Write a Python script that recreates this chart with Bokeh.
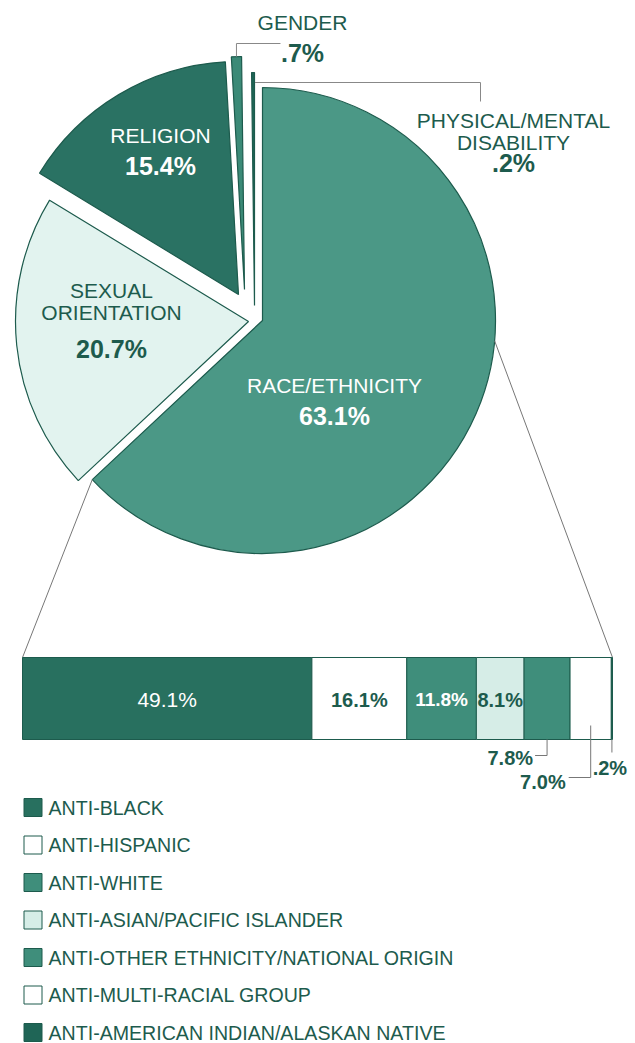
import math
from bokeh.plotting import figure
from bokeh.models import Range1d
from bokeh.core.properties import value
from bokeh.embed import file_html
from bokeh.resources import INLINE

# ---------------- data ----------------
pie_categories = ["RACE/ETHNICITY", "SEXUAL ORIENTATION", "RELIGION", "GENDER",
                  "PHYSICAL/MENTAL DISABILITY"]
pie_values = [63.1, 20.7, 15.4, 0.7, 0.2]
pie_label_lines = [["RACE/ETHNICITY"], ["SEXUAL", "ORIENTATION"], ["RELIGION"],
                   ["GENDER"], ["PHYSICAL/MENTAL", "DISABILITY"]]

bar_categories = ["ANTI-BLACK", "ANTI-HISPANIC", "ANTI-WHITE",
                  "ANTI-ASIAN/PACIFIC ISLANDER",
                  "ANTI-OTHER ETHNICITY/NATIONAL ORIGIN",
                  "ANTI-MULTI-RACIAL GROUP",
                  "ANTI-AMERICAN INDIAN/ALASKAN NATIVE"]
bar_values = [49.1, 16.1, 11.8, 8.1, 7.8, 7.0, 0.2]


def pct(v):
    s = f"{v:.1f}%"
    return s[1:] if s.startswith("0") else s


# ---------------- styles / layout ----------------
FONT = value("Liberation Sans")
DARK_TXT = "#1d5b4d"
EDGE = "#1d5b4d"

pie_colors = ["#4b9886", "#e2f3ef", "#2a7263", "#3b8a77", "#1f6556"]
pie_offsets = [(0, 0), (-14, 1), (-24, -26), (-18, -31), (-8, -15)]
pie_text_pos = [(334, 385), (111, 290), (160, 135), (302, 22), (513, 120)]
pie_text_color = ["white", DARK_TXT, "white", DARK_TXT, DARK_TXT]
LINE_GAP = 22
NUM_GAP = [30, 58, 30, 30, 42]

bar_colors = ["#28705f", "#ffffff", "#3f8e7b", "#d6ede7", "#3f8e7b", "#ffffff", "#1f6556"]
bar_text_color = ["white", DARK_TXT, "white", DARK_TXT, DARK_TXT, DARK_TXT, DARK_TXT]
bar_text_bold = ["normal", "bold", "bold", "bold", "bold", "bold", "bold"]
bar_text_size = ["21px", "20px", "19px", "20px", "20px", "20px", "20px"]
bar_inside = [True, True, True, True, False, False, False]

CX, CY, R = 262, 320, 233
W, H = 635, 1043
BAR_X0, BAR_X1, BAR_TOP, BAR_BOT = 22, 612, 657, 739

p = figure(width=W, height=H, output_backend="svg", toolbar_location=None,
           x_range=Range1d(0, W), y_range=Range1d(H, 0),
           x_axis_type=None, y_axis_type=None, min_border=0)
p.grid.visible = False
p.outline_line_color = None
p.background_fill_color = "white"

# ---------------- pie ----------------
total = sum(pie_values)
theta = 0.0
slices = []
for i, v in enumerate(pie_values):
    t0 = theta
    t1 = theta + 360.0 * v / total
    theta = t1
    slices.append((t0, t1))
    dx, dy = pie_offsets[i]
    # clockwise-from-top -> screen math angles
    p.wedge(x=CX + dx, y=CY + dy, radius=R,
            start_angle=math.radians(90 - t1), end_angle=math.radians(90 - t0),
            direction="anticlock", fill_color=pie_colors[i],
            line_color=EDGE, line_width=1.2)

# pie labels
for i, lines in enumerate(pie_label_lines):
    tx, ty = pie_text_pos[i]
    for k, ln in enumerate(lines):
        p.text(x=[tx], y=[ty + k * LINE_GAP], text=[ln], text_align="center",
               text_baseline="middle", text_font=FONT, text_font_size="21px",
               text_color=pie_text_color[i])
    p.text(x=[tx], y=[ty + NUM_GAP[i]], text=[pct(pie_values[i])],
           text_align="center", text_baseline="middle", text_font=FONT,
           text_font_size="25px", text_font_style="bold",
           text_color=pie_text_color[i])

# gender leader
g0, g1 = slices[3]
gm = math.radians((g0 + g1) / 2)
gx = CX + pie_offsets[3][0] + R * math.sin(gm)
gy = CY + pie_offsets[3][1] - R * math.cos(gm)
p.line(x=[gx, gx, gx + 44], y=[gy, 43, 43], line_color="#888888", line_width=1)

# disability leader
d0, d1 = slices[4]
dm = math.radians((d0 + d1) / 2)
dxp = CX + pie_offsets[4][0] + R * math.sin(dm)
p.line(x=[dxp + 2, 480, 480], y=[82, 82, 101], line_color="#888888", line_width=1)

# connectors from race slice to the bar
r0, r1 = slices[0]
ex = CX + R * math.sin(math.radians(r1))
ey = CY - R * math.cos(math.radians(r1))
p.line(x=[ex, BAR_X0], y=[ey, BAR_TOP], line_color="#777777", line_width=1)
rx = CX + R * math.sin(math.radians(95))
ry = CY - R * math.cos(math.radians(95))
p.line(x=[rx, BAR_X1], y=[ry, BAR_TOP], line_color="#777777", line_width=1)

# ---------------- stacked bar ----------------
btotal = sum(bar_values)
ppp = (BAR_X1 - BAR_X0) / btotal
start = -BAR_X0 / ppp
p.extra_x_ranges = {"pct": Range1d(start, start + W / ppp)}

lefts, rights = [], []
acc = 0.0
for v in bar_values:
    lefts.append(acc)
    acc += v
    rights.append(acc)
p.quad(left=lefts, right=rights, top=BAR_TOP, bottom=BAR_BOT,
       fill_color=bar_colors, line_color=EDGE, line_width=1, x_range_name="pct")

mids = [(a + b) / 2 for a, b in zip(lefts, rights)]
for i, m in enumerate(mids):
    if bar_inside[i]:
        p.text(x=[m], y=[BAR_TOP + 42], text=[pct(bar_values[i])], text_align="center",
               text_baseline="middle", text_font=FONT, text_font_size=bar_text_size[i],
               text_font_style=bar_text_bold[i], text_color=bar_text_color[i],
               x_range_name="pct")

# outside labels with leaders (px offsets converted to pct units)
outside = [
    # idx, leader top y, leader bottom y, horizontal length px, text dx px, text y, align
    (4, BAR_BOT, 755, -12, -14, 757, "right"),
    (5, 725, 777, -22, -25, 781, "right"),
    (6, BAR_BOT, 752, 0, -2, 767, "center"),
]
for idx, ytop, ybot, hl, tdx, ty, al in outside:
    m = mids[idx]
    xs = [m, m] + ([m + hl / ppp] if hl else [])
    ys = [ytop, ybot] + ([ybot] if hl else [])
    p.line(x=xs, y=ys, line_color="#777777", line_width=1, x_range_name="pct")
    p.text(x=[m + tdx / ppp], y=[ty], text=[pct(bar_values[idx])], text_align=al,
           text_baseline="middle", text_font=FONT, text_font_size=bar_text_size[idx],
           text_font_style="bold", text_color=DARK_TXT, x_range_name="pct")

# ---------------- legend ----------------
LEG_Y0, LEG_DY = 807, 37.5
leg_y = [LEG_Y0 + k * LEG_DY for k in range(len(bar_categories))]
p.rect(x=32.5, y=leg_y, width=18, height=18, fill_color=bar_colors,
       line_color=EDGE, line_width=1)
p.text(x=48, y=leg_y, text=bar_categories, text_align="left", text_baseline="middle",
       text_font=FONT, text_font_size="19.6px", text_color=DARK_TXT)

open("out.html", "w").write(file_html(p, INLINE))
